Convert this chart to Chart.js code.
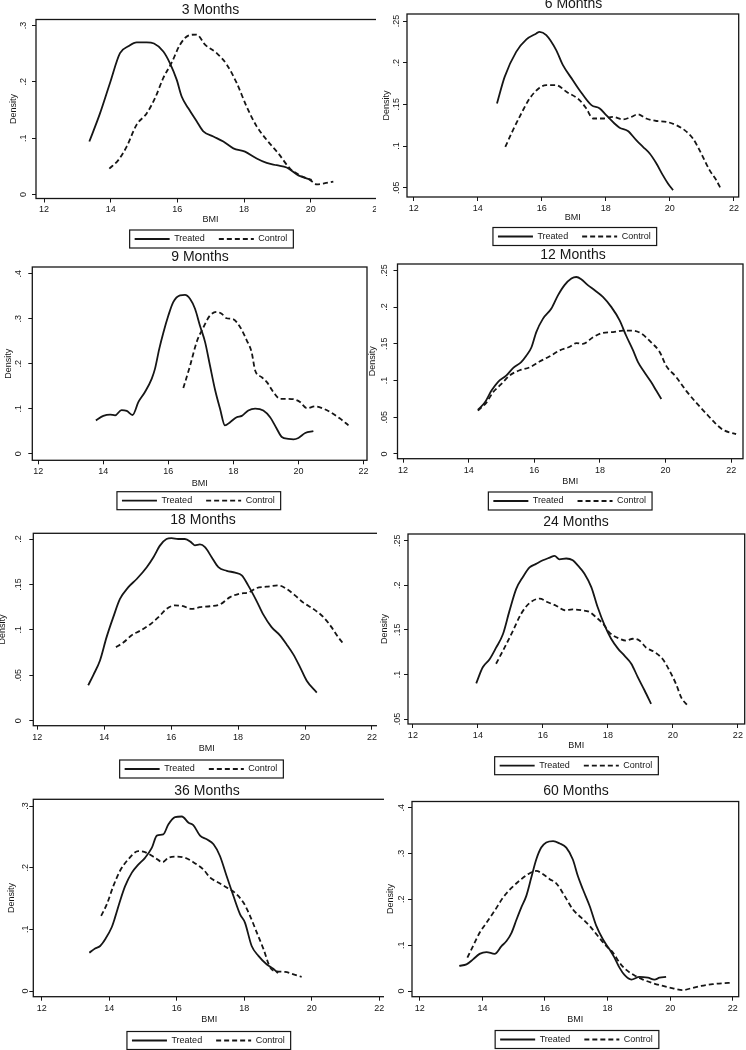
<!DOCTYPE html>
<html>
<head>
<meta charset="utf-8">
<title>BMI density, treated vs control</title>
<script src="https://cdn.jsdelivr.net/npm/chart.js@4.4.1/dist/chart.umd.min.js"></script>
<style>
  html, body { margin: 0; padding: 0; background: #fff; }
  body { width: 746px; height: 1050px; position: relative; overflow: hidden; }
  .clip { position: absolute; left: 0; overflow: hidden; }
  canvas { position: absolute; }
</style>
</head>
<body>
<script>
// ---- data ----
const panelTitles = ['3 Months', '6 Months', '9 Months', '12 Months', '18 Months', '24 Months', '36 Months', '60 Months'];
const seriesNames = ['Treated', 'Control'];
const bmiTicks = [12, 14, 16, 18, 20, 22];

// 3 months
const bmiT3 = [13.36, 13.68, 13.98, 14.28, 14.53, 14.78, 15.08, 15.30, 15.58, 15.78, 15.98, 16.13, 16.33, 16.58, 16.78, 17.08, 17.38, 17.68, 18.03, 18.38, 18.68, 18.98, 19.28, 19.63, 20.03];
const denT3 = [.094, .144, .198, .251, .263, .270, .270, .268, .254, .233, .204, .174, .153, .130, .112, .103, .094, .082, .076, .064, .056, .052, .048, .034, .026];
const bmiC3 = [13.96, 14.23, 14.48, 14.78, 15.08, 15.33, 15.58, 15.83, 16.08, 16.33, 16.58, 16.83, 17.18, 17.48, 17.78, 18.08, 18.38, 18.68, 19.03, 19.38, 19.68, 19.98, 20.18, 20.43, 20.68];
const denC3 = [.046, .061, .085, .124, .144, .171, .207, .234, .266, .282, .284, .266, .251, .231, .198, .156, .121, .097, .073, .046, .034, .026, .018, .020, .023];
const denTicks3 = [0, .1, .2, .3];

// 6 months
const bmiT6 = [14.60, 14.84, 15.20, 15.52, 15.83, 15.93, 16.14, 16.45, 16.66, 16.97, 17.18, 17.55, 17.81, 18.01, 18.27, 18.43, 18.69, 18.95, 19.16, 19.37, 19.58, 19.78, 19.94, 20.10];
const denT6 = [.151, .183, .213, .228, .235, .237, .233, .215, .197, .179, .167, .149, .145, .137, .127, .122, .118, .107, .099, .091, .079, .065, .055, .047];
const bmiC6 = [14.86, 15.10, 15.36, 15.62, 15.93, 16.14, 16.45, 16.77, 17.18, 17.39, 17.60, 17.91, 18.22, 18.53, 18.80, 19.00, 19.26, 19.58, 19.89, 20.20, 20.46, 20.72, 20.98, 21.24, 21.45, 21.60];
const denC6 = [.099, .119, .139, .157, .170, .173, .173, .165, .155, .145, .133, .133, .135, .132, .135, .138, .133, .130, .129, .125, .119, .109, .091, .071, .059, .048];
const denTicks6 = [.05, .1, .15, .2, .25];

// 9 months
const bmiT9 = [13.77, 14.00, 14.21, 14.36, 14.56, 14.72, 14.90, 15.08, 15.28, 15.49, 15.59, 15.72, 15.85, 16.00, 16.15, 16.36, 16.51, 16.67, 16.82, 16.97, 17.13, 17.28, 17.44, 17.59, 17.74, 17.90, 18.10, 18.26, 18.46, 18.67, 18.92, 19.13, 19.33, 19.49, 19.69, 19.85, 20.00, 20.21, 20.46];
const denT9 = [.074, .084, .087, .085, .097, .095, .086, .115, .137, .167, .189, .233, .270, .307, .337, .352, .353, .344, .322, .285, .248, .196, .141, .100, .063, .070, .081, .084, .096, .100, .096, .081, .056, .037, .033, .032, .035, .046, .050];
const bmiC9 = [16.46, 16.67, 16.87, 17.08, 17.28, 17.49, 17.64, 17.79, 17.99, 18.21, 18.41, 18.56, 18.67, 18.87, 19.03, 19.23, 19.44, 19.64, 19.85, 20.05, 20.26, 20.51, 20.77, 20.97, 21.28, 21.54];
const denC9 = [.146, .196, .248, .281, .307, .315, .311, .301, .299, .281, .252, .226, .185, .170, .159, .137, .122, .122, .121, .115, .101, .105, .100, .093, .078, .063];
const denTicks9 = [0, .1, .2, .3, .4];

// 12 months
const bmiT12 = [14.28, 14.49, 14.69, 14.89, 15.15, 15.35, 15.60, 15.76, 15.91, 16.06, 16.26, 16.52, 16.72, 16.92, 17.13, 17.28, 17.43, 17.63, 17.84, 18.09, 18.35, 18.60, 18.80, 19.01, 19.16, 19.36, 19.56, 19.72, 19.87];
const denT12 = [.060, .070, .086, .098, .107, .117, .125, .134, .145, .166, .184, .198, .216, .230, .239, .241, .238, .230, .223, .214, .200, .182, .161, .141, .125, .111, .098, .086, .075];
const bmiC12 = [14.28, 14.54, 14.74, 14.99, 15.25, 15.55, 15.86, 16.16, 16.47, 16.77, 17.08, 17.28, 17.48, 17.79, 18.09, 18.40, 18.70, 19.01, 19.26, 19.56, 19.82, 20.02, 20.32, 20.63, 20.93, 21.24, 21.49, 21.75, 22.15];
const denC12 = [.059, .070, .084, .095, .107, .114, .118, .126, .133, .141, .146, .151, .150, .159, .165, .166, .168, .168, .164, .152, .139, .120, .105, .086, .070, .055, .043, .033, .027];
const denTicks12 = [0, .05, .1, .15, .2, .25];

// 18 months
const bmiT18 = [13.52, 13.67, 13.87, 14.07, 14.27, 14.47, 14.72, 14.97, 15.27, 15.47, 15.67, 15.86, 16.01, 16.21, 16.41, 16.61, 16.71, 16.86, 17.01, 17.21, 17.41, 17.66, 17.91, 18.11, 18.30, 18.55, 18.75, 19.00, 19.25, 19.45, 19.65, 19.85, 20.05, 20.35];
const denT18 = [.039, .050, .066, .092, .114, .134, .147, .156, .169, .180, .193, .200, .201, .200, .200, .196, .193, .194, .191, .180, .169, .165, .163, .160, .149, .132, .117, .103, .094, .084, .073, .059, .044, .031];
const bmiC18 = [14.35, 14.57, 14.82, 15.07, 15.37, 15.62, 15.86, 16.11, 16.36, 16.61, 16.86, 17.16, 17.46, 17.76, 18.06, 18.30, 18.55, 18.85, 19.20, 19.45, 19.70, 19.95, 20.25, 20.55, 20.79, 20.99, 21.14];
const denC18 = [.081, .086, .094, .099, .106, .114, .123, .127, .126, .123, .125, .126, .128, .136, .140, .141, .146, .1475, .149, .145, .138, .130, .123, .114, .103, .092, .085];
const denTicks18 = [0, .05, .1, .15, .2];

// 24 months
const bmiT24 = [13.95, 14.15, 14.36, 14.56, 14.77, 14.97, 15.18, 15.38, 15.59, 15.79, 16.00, 16.21, 16.36, 16.51, 16.72, 16.92, 17.08, 17.28, 17.49, 17.69, 17.90, 18.10, 18.31, 18.51, 18.72, 18.92, 19.13, 19.33];
const denT24 = [.090, .108, .117, .130, .145, .171, .196, .209, .220, .224, .228, .231, .233, .229, .230, .228, .222, .213, .198, .175, .155, .140, .129, .121, .112, .097, .082, .067];
const bmiC24 = [14.56, 14.82, 15.08, 15.33, 15.59, 15.90, 16.15, 16.41, 16.67, 16.92, 17.18, 17.44, 17.64, 17.85, 18.05, 18.36, 18.56, 18.77, 18.97, 19.18, 19.44, 19.69, 19.90, 20.10, 20.26, 20.46];
const denC24 = [.112, .130, .149, .168, .180, .185, .181, .177, .172, .173, .172, .170, .164, .157, .147, .140, .138, .140, .138, .130, .125, .117, .104, .089, .074, .065];
const denTicks24 = [.05, .1, .15, .2, .25];

// 36 months
const bmiT36 = [13.41, 13.58, 13.73, 13.88, 14.07, 14.17, 14.32, 14.47, 14.67, 14.86, 15.06, 15.26, 15.41, 15.60, 15.75, 15.95, 16.15, 16.35, 16.49, 16.69, 16.89, 17.09, 17.28, 17.48, 17.68, 17.88, 18.02, 18.22, 18.42, 18.67, 18.86, 19.00];
const denT36 = [.062, .069, .073, .084, .103, .119, .146, .170, .192, .205, .216, .232, .252, .254, .270, .282, .283, .273, .269, .252, .246, .238, .219, .186, .154, .124, .111, .073, .057, .043, .036, .029];
const bmiC36 = [13.76, 13.93, 14.12, 14.32, 14.57, 14.86, 15.11, 15.36, 15.58, 15.75, 16.00, 16.25, 16.49, 16.79, 16.99, 17.23, 17.48, 17.73, 17.98, 18.17, 18.37, 18.57, 18.77, 18.96, 19.21, 19.46, 19.70];
const denC36 = [.122, .141, .170, .195, .214, .227, .224, .216, .209, .216, .218, .216, .209, .197, .184, .176, .168, .159, .143, .122, .095, .068, .038, .032, .031, .027, .023];
const denTicks36 = [0, .1, .2, .3];

// 60 months
const bmiT60 = [13.26, 13.49, 13.70, 13.91, 14.13, 14.39, 14.61, 14.77, 14.93, 15.09, 15.24, 15.40, 15.56, 15.72, 15.88, 16.04, 16.26, 16.47, 16.68, 16.89, 17.05, 17.21, 17.43, 17.64, 17.85, 18.06, 18.22, 18.38, 18.54, 18.76, 19.02, 19.29, 19.50, 19.66, 19.87];
const denT60 = [.055, .058, .069, .081, .085, .081, .098, .109, .127, .156, .182, .207, .247, .287, .313, .324, .327, .322, .313, .287, .251, .222, .185, .142, .113, .091, .073, .051, .035, .025, .031, .029, .025, .029, .031];
const bmiC60 = [13.52, 13.70, 13.91, 14.13, 14.39, 14.66, 14.93, 15.19, 15.46, 15.72, 15.94, 16.15, 16.36, 16.63, 16.89, 17.16, 17.43, 17.69, 17.96, 18.17, 18.38, 18.60, 18.86, 19.13, 19.45, 19.77, 20.09, 20.40, 20.67, 20.99, 21.36, 21.68, 21.95];
const denC60 = [.073, .098, .127, .149, .175, .204, .225, .241, .255, .262, .255, .244, .235, .207, .178, .160, .142, .120, .098, .084, .062, .046, .034, .025, .017, .011, .006, .002, .006, .011, .015, .017, .018];
const denTicks60 = [0, .1, .2, .3, .4];

const panelData = [
  [bmiT3, denT3, bmiC3, denC3, denTicks3],
  [bmiT6, denT6, bmiC6, denC6, denTicks6],
  [bmiT9, denT9, bmiC9, denC9, denTicks9],
  [bmiT12, denT12, bmiC12, denC12, denTicks12],
  [bmiT18, denT18, bmiC18, denC18, denTicks18],
  [bmiT24, denT24, bmiC24, denC24, denTicks24],
  [bmiT36, denT36, bmiC36, denC36, denTicks36],
  [bmiT60, denT60, bmiC60, denC60, denTicks60]
];

// ---- page layout (absolute px on the 746x1050 page) ----
// box: canvas [left, top, width, height]; clip: right cut for left column
// frame: plot region [l, t, r, b]; title/leg: centre points
const layout = [
  {box: [-10, -10, 410, 280], clip: 376, frame: [36, 19.5, 385, 198.5], title: [210.5, 10], bmiY: 220, leg: [211, 239], lOff: 12, tOff: 22.3, xr: [11.76, 22.23], yr: [-0.0071, 0.3107]},
  {box: [360, -10, 386, 280], frame: [407, 14, 738.7, 197], title: [573.5, 4.5], bmiY: 218, leg: [574.3, 236.5], lOff: 10.7, tOff: 20.7, xr: [11.79, 22.15], yr: [0.0388, 0.2584]},
  {box: [-10, 245, 410, 285], clip: 370, frame: [32.3, 267, 367, 460.3], title: [200, 257], bmiY: 483.7, leg: [198.3, 500.7], lOff: 13.3, tOff: 24, xr: [11.815, 22.11], yr: [-0.0147, 0.4149]},
  {box: [360, 245, 386, 285], frame: [397.5, 264, 743, 458.7], title: [573, 255], bmiY: 481.3, leg: [569.7, 501], lOff: 12.5, tOff: 24.5, xr: [11.83, 22.36], yr: [-0.0064, 0.2587]},
  {box: [-10, 508, 410, 290], clip: 377, frame: [33.3, 533.3, 380, 725.7], title: [203, 520], bmiY: 749, leg: [201, 769], lOff: 15, tOff: 31, xr: [11.88, 22.24], yr: [-0.0055, 0.2063]},
  {box: [360, 508, 386, 290], frame: [408, 534, 744.7, 724], title: [576, 522], bmiY: 745.7, leg: [576, 765.7], lOff: 10, tOff: 23.3, xr: [11.85, 22.21], yr: [0.0444, 0.2575]},
  {box: [-10, 778, 410, 290], clip: 384, frame: [33.3, 799.3, 385, 996.7], title: [207, 791], bmiY: 1019.3, leg: [208.3, 1040.5], lOff: 8, tOff: 21.6, xr: [11.75, 22.17], yr: [-0.0092, 0.3109]},
  {box: [360, 778, 386, 290], frame: [412, 801.5, 738.7, 996.7], title: [576, 791], bmiY: 1019.3, leg: [576.5, 1039.5], lOff: 10, tOff: 21.7, xr: [11.75, 22.19], yr: [-0.0124, 0.4135]}
];

const INK = '#161616';
const LINE_W = 1.8;
const TITLE_SIZE = 14;
const TITLE_LH = TITLE_SIZE * 1.2;
const SMALL = 9;
const SMALL_LH = SMALL * 1.2;
const TICK_LEN = 4;
const LEG_PAD = 14;

Chart.defaults.font.family = '"Liberation Sans", Arial, sans-serif';
Chart.defaults.color = INK;

var measureCtx = document.createElement('canvas').getContext('2d');
measureCtx.font = SMALL + 'px "Liberation Sans"';

// Stata style density labels: 0, .05, .1 ...
function denLabel(v) {
  return v === 0 ? '0' : String(v).replace(/^0\./, '.');
}

function pairs(xs, ys) {
  return xs.map(function(x, i) { return {x: x, y: ys[i]}; });
}

// legend items drawn as line samples, keeping each dataset's dash
function lineLabels(chart) {
  var items = Chart.defaults.plugins.legend.labels.generateLabels(chart);
  items.forEach(function(it) {
    var ds = chart.data.datasets[it.datasetIndex];
    it.lineDash = ds.borderDash || [];
    it.lineWidth = ds.borderWidth;
    it.strokeStyle = ds.borderColor;
    it.pointStyle = 'line';
  });
  return items;
}

function drawPanel(idx) {
  var p = layout[idx];
  var d = panelData[idx];
  var W = p.box[2], H = p.box[3];

  var canvas = document.createElement('canvas');
  canvas.width = W;
  canvas.height = H;
  if (p.clip) {
    var wrap = document.createElement('div');
    wrap.className = 'clip';
    wrap.style.top = p.box[1] + 'px';
    wrap.style.width = p.clip + 'px';
    wrap.style.height = H + 'px';
    canvas.style.left = p.box[0] + 'px';
    canvas.style.top = '0px';
    wrap.appendChild(canvas);
    document.body.appendChild(wrap);
  } else {
    canvas.style.left = p.box[0] + 'px';
    canvas.style.top = p.box[1] + 'px';
    document.body.appendChild(canvas);
  }

  // everything below in canvas coordinates
  var fL = p.frame[0] - p.box[0], fT = p.frame[1] - p.box[1];
  var fR = p.frame[2] - p.box[0], fB = p.frame[3] - p.box[1];
  var wy = p.tOff + 6.5;
  var hx = (p.bmiY - p.box[1]) + SMALL_LH / 2 - fB;
  var legH = SMALL + LEG_PAD + 10;
  var pad = {left: fL - wy, top: fT - TITLE_LH, right: W - fR, bottom: H - fB - hx - legH};

  var widest = Math.max.apply(null, d[4].map(function(v) { return measureCtx.measureText(denLabel(v)).width; }));
  var yTickPad = Math.max(0, p.lOff - TICK_LEN - widest / 2);

  var titleX = p.title[0] - p.box[0], titleY = p.title[1] - p.box[1];
  var legX = p.leg[0] - p.box[0], legY = p.leg[1] - p.box[1];

  var stataLook = {
    id: 'stataLook',
    afterLayout: function(chart) {
      // put title and legend where the figure has them
      var t = chart.titleBlock;
      var tw = t.width, th = t.height;
      t.left = titleX - tw / 2; t.right = t.left + tw;
      t.top = titleY - TITLE_LH / 2; t.bottom = t.top + th;
      var lg = chart.legend;
      var lw = lg.width, lh = lg.height;
      lg.left = legX - lw / 2; lg.right = lg.left + lw;
      lg.top = legY - LEG_PAD - SMALL / 2; lg.bottom = lg.top + lh;
    },
    afterDraw: function(chart) {
      var ctx = chart.ctx, a = chart.chartArea;
      ctx.save();
      ctx.strokeStyle = INK;
      ctx.lineWidth = 1.3;
      ctx.strokeRect(a.left, a.top, a.right - a.left, a.bottom - a.top);
      // box round the legend
      var hb = chart.legend.legendHitBoxes;
      var last = hb[hb.length - 1];
      var l = hb[0].left - 5, r = last.left + last.width + 6;
      var cy = hb[0].top + hb[0].height / 2;
      ctx.lineWidth = 1.2;
      ctx.strokeRect(l, cy - 9, r - l, 18);
      ctx.restore();
    }
  };

  var gridOpts = {drawOnChartArea: false, drawTicks: true, tickLength: TICK_LEN, color: INK, lineWidth: 1};

  new Chart(canvas.getContext('2d'), {
    type: 'line',
    data: {
      datasets: [
        {
          label: seriesNames[0],
          data: pairs(d[0], d[1]),
          borderColor: INK,
          backgroundColor: INK,
          borderWidth: LINE_W,
          pointRadius: 0,
          cubicInterpolationMode: 'monotone',
          fill: false
        },
        {
          label: seriesNames[1],
          data: pairs(d[2], d[3]),
          borderColor: INK,
          backgroundColor: INK,
          borderWidth: LINE_W,
          borderDash: [5, 3],
          pointRadius: 0,
          cubicInterpolationMode: 'monotone',
          fill: false
        }
      ]
    },
    options: {
      responsive: false,
      animation: false,
      events: [],
      layout: {padding: pad},
      plugins: {
        title: {
          display: true,
          text: panelTitles[idx],
          color: INK,
          font: {size: TITLE_SIZE, weight: 'normal', lineHeight: 1.2},
          padding: 0
        },
        legend: {
          position: 'bottom',
          labels: {
            usePointStyle: true,
            pointStyle: 'line',
            pointStyleWidth: 35,
            color: INK,
            font: {size: SMALL},
            padding: LEG_PAD,
            generateLabels: lineLabels
          }
        },
        tooltip: {enabled: false}
      },
      scales: {
        x: {
          type: 'linear',
          min: p.xr[0],
          max: p.xr[1],
          afterBuildTicks: function(ax) { ax.ticks = bmiTicks.map(function(v) { return {value: v}; }); },
          afterFit: function(ax) { ax.height = hx; },
          grid: gridOpts,
          border: {display: false},
          ticks: {
            font: {size: SMALL},
            color: INK,
            padding: 2,
            maxRotation: 0,
            autoSkip: false,
            callback: function(v) { return String(v); }
          },
          title: {display: true, text: 'BMI', color: INK, font: {size: SMALL}, padding: {top: 0, bottom: 0}}
        },
        y: {
          type: 'linear',
          min: p.yr[0],
          max: p.yr[1],
          afterBuildTicks: function(ax) { ax.ticks = d[4].map(function(v) { return {value: v}; }); },
          afterFit: function(ax) { ax.width = wy; },
          grid: gridOpts,
          border: {display: false},
          ticks: {
            font: {size: SMALL},
            color: INK,
            padding: yTickPad,
            minRotation: 90,
            maxRotation: 90,
            crossAlign: 'center',
            autoSkip: false,
            callback: function(v) { return denLabel(v); }
          },
          title: {
            display: true,
            text: 'Density',
            color: INK,
            font: {size: SMALL},
            padding: {top: wy - p.tOff - SMALL_LH / 2, bottom: 0}
          }
        }
      }
    },
    plugins: [stataLook]
  });
}

for (var i = 0; i < layout.length; i++) {
  drawPanel(i);
}
</script>
</body>
</html>
